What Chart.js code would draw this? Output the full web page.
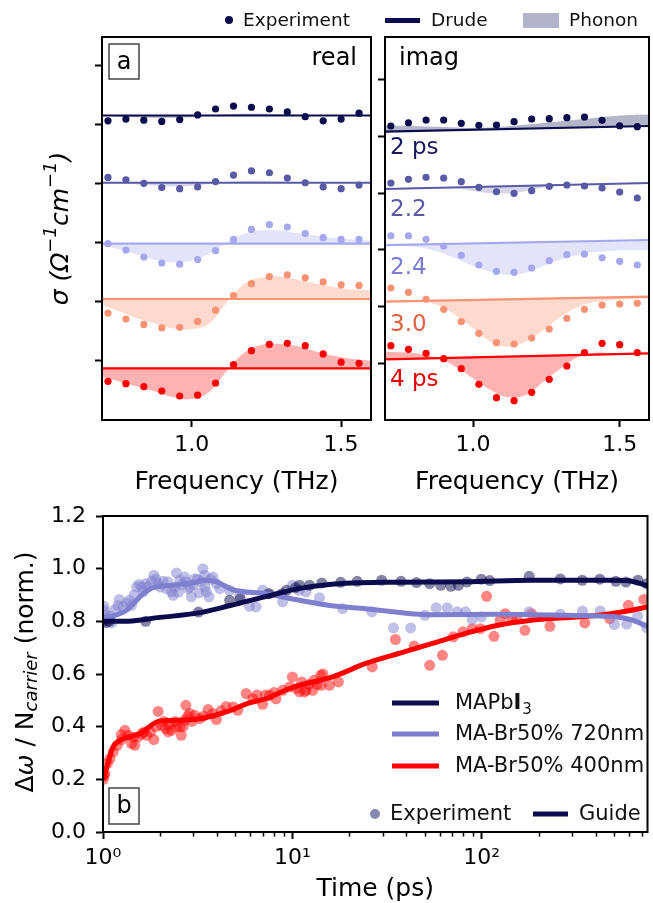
<!DOCTYPE html>
<html>
<head>
<meta charset="utf-8">
<script src="https://cdn.jsdelivr.net/npm/chart.js@4.4.1/dist/chart.umd.min.js"></script>
<style>
  body { margin: 0; background: #fff; width: 653px; height: 903px; overflow: hidden; position: relative; font-family: 'DejaVu Sans', sans-serif; }
  canvas { position: absolute; }
  #realCanvas { left: 0; top: 0; }
  #imagCanvas { left: 378px; top: 0; }
  #timeCanvas { left: 0; top: 490px; }
  .lg { position: absolute; font-size: 18.5px; line-height: 1; color: #111; white-space: nowrap; }
</style>
</head>
<body>
<canvas id="realCanvas" width="378" height="505"></canvas>
<canvas id="imagCanvas" width="275" height="505"></canvas>
<canvas id="timeCanvas" width="653" height="413"></canvas>

<!-- shared legend of the top panels -->
<div class="lg" style="left:225px;top:16px;width:8px;height:8px;border-radius:50%;background:#0b0b4d;"></div>
<div class="lg" style="left:243px;top:11px;">Experiment</div>
<div class="lg" style="left:385px;top:18px;width:35px;height:5px;background:#0b0b4d;"></div>
<div class="lg" style="left:431px;top:11px;">Drude</div>
<div class="lg" style="left:523px;top:13px;width:36px;height:15px;background:#b3b3cc;"></div>
<div class="lg" style="left:569px;top:11px;">Phonon</div>

<script>
  const FONT = "'DejaVu Sans', sans-serif";

  // Frequency axes (THz)
  const freqs = [0.72, 0.78, 0.84, 0.90, 0.96, 1.02, 1.08, 1.14, 1.20, 1.26, 1.32, 1.38, 1.44, 1.50, 1.56];
  const fitFreqs = [0.70, 0.76, 0.82, 0.88, 0.94, 1.00, 1.06, 1.12, 1.18, 1.24, 1.30, 1.36, 1.42, 1.48, 1.54, 1.60];
  const freqTicks = [1.0, 1.5];

  // Delay traces (top to bottom)
  const delays = ["2 ps", "2.2", "2.4", "3.0", "4 ps"];
  const traceColors = ["#0b0b4d", "#5959a6", "#a7a7f0", "#f99273", "#ff0000"];
  const fillColors = ["rgba(11,11,77,0.3)", "rgba(89,89,166,0.25)", "rgba(167,167,240,0.32)", "rgba(249,146,115,0.35)", "rgba(255,0,0,0.3)"];
  const labelColors = ["#16165c", "#5959a6", "#7b7bd6", "#e0603c", "#e60000"];

  // Real part (offset units)
  const realDrude = [5.16, 4.02, 2.99, 2.05, 0.876];
  const realExp = [
    [5.07, 5.10, 5.08, 5.06, 5.09, 5.17, 5.27, 5.32, 5.30, 5.27, 5.22, 5.14, 5.07, 5.10, 5.20],
    [4.11, 4.07, 4.01, 3.94, 3.92, 3.95, 4.04, 4.15, 4.22, 4.19, 4.10, 4.02, 3.95, 3.92, 3.98],
    [2.99, 2.88, 2.76, 2.66, 2.64, 2.72, 2.87, 3.06, 3.23, 3.31, 3.27, 3.16, 3.09, 3.06, 3.06],
    [1.81, 1.71, 1.62, 1.56, 1.57, 1.67, 1.86, 2.11, 2.31, 2.43, 2.46, 2.41, 2.34, 2.29, 2.28],
    [0.656, 0.616, 0.565, 0.49, 0.407, 0.42, 0.627, 0.938, 1.175, 1.28, 1.30, 1.26, 1.12, 0.98, 0.96]
  ];
  const realFit = [
    [5.15, 5.14, 5.13, 5.12, 5.12, 5.13, 5.16, 5.18, 5.19, 5.19, 5.18, 5.17, 5.16, 5.16, 5.16, 5.16],
    [4.02, 4.01, 3.99, 3.97, 3.96, 3.97, 4.00, 4.03, 4.05, 4.05, 4.04, 4.03, 4.02, 4.02, 4.02, 4.02],
    [2.966, 2.89, 2.80, 2.71, 2.67, 2.70, 2.82, 3.01, 3.16, 3.22, 3.21, 3.16, 3.12, 3.08, 3.06, 3.04],
    [1.95, 1.84, 1.72, 1.63, 1.55, 1.54, 1.64, 2.01, 2.32, 2.42, 2.43, 2.37, 2.31, 2.25, 2.21, 2.20],
    [0.734, 0.65, 0.565, 0.48, 0.384, 0.356, 0.48, 0.847, 1.158, 1.28, 1.288, 1.243, 1.158, 1.085, 1.034, 1.005]
  ];

  // Imaginary part (offset units)
  const imagDrudeStart = [5.085, 4.074, 3.086, 2.087, 1.07];
  const imagDrudeEnd = [5.185, 4.18, 3.175, 2.175, 1.176];
  const imagExp = [
    [5.185, 5.243, 5.291, 5.291, 5.233, 5.197, 5.203, 5.261, 5.309, 5.314, 5.332, 5.344, 5.286, 5.19, 5.173],
    [4.18, 4.245, 4.28, 4.268, 4.203, 4.104, 4.026, 3.998, 4.044, 4.122, 4.145, 4.127, 4.092, 4.021, 3.915],
    [3.25, 3.25, 3.187, 3.069, 2.905, 2.734, 2.623, 2.605, 2.681, 2.81, 2.915, 2.928, 2.862, 2.799, 2.734],
    [2.328, 2.252, 2.128, 1.952, 1.734, 1.529, 1.364, 1.340, 1.446, 1.605, 1.793, 1.952, 2.028, 2.046, 2.058],
    [1.311, 1.246, 1.176, 1.082, 0.905, 0.629, 0.393, 0.340, 0.488, 0.717, 0.952, 1.188, 1.352, 1.329, 1.188]
  ];
  const imagFit = [
    [5.19, 5.19, 5.18, 5.17, 5.16, 5.15, 5.16, 5.18, 5.21, 5.24, 5.27, 5.30, 5.33, 5.36, 5.38, 5.39],
    [4.08, 4.09, 4.10, 4.10, 4.09, 4.04, 4.00, 4.00, 4.04, 4.10, 4.13, 4.15, 4.16, 4.17, 4.18, 4.18],
    [3.086, 3.074, 3.046, 2.968, 2.851, 2.716, 2.616, 2.563, 2.598, 2.716, 2.834, 2.916, 2.963, 2.987, 2.998, 2.998],
    [2.116, 2.116, 2.104, 2.028, 1.852, 1.617, 1.381, 1.293, 1.381, 1.587, 1.822, 1.999, 2.087, 2.116, 2.134, 2.140],
    [1.205, 1.193, 1.164, 1.088, 0.940, 0.735, 0.529, 0.400, 0.441, 0.676, 0.911, 1.117, 1.188, 1.176, 1.176, 1.176]
  ];
  const imagLabelY = [4.80, 3.70, 2.68, 1.68, 0.705];

  // Panel b: shift per carrier vs time
  const timeTicks = [1, 10, 100];
  const timeMinor = [2, 3, 4, 5, 6, 7, 8, 9, 20, 30, 40, 50, 60, 70, 80, 90, 200, 300, 400, 500, 600, 700];
  const seriesNames = ["MAPbI3", "MA-Br50% 720nm", "MA-Br50% 400nm"];
  const guideColors = ["#0b0b4d", "#7f7fd0", "#ff0000"];
  const dotColors = ["rgba(11,11,77,0.5)", "rgba(127,127,208,0.5)", "rgba(255,0,0,0.48)"];

  const mapiT = [1.0, 1.04, 1.08, 1.68, 3.19, 4.66, 5.3, 7.5, 8.8, 9.3, 10.4, 10.9, 12.3, 14.3, 18, 22, 29.6, 37.5, 45.2, 53.1, 60.7, 68.6, 75.3, 83.5, 99.4, 110, 178, 260, 339, 420, 510, 577, 668, 742];
  const mapiV = [0.80, 0.795, 0.80, 0.80, 0.835, 0.88, 0.885, 0.905, 0.905, 0.918, 0.928, 0.937, 0.937, 0.946, 0.948, 0.952, 0.956, 0.952, 0.947, 0.943, 0.937, 0.933, 0.937, 0.949, 0.96, 0.955, 0.971, 0.961, 0.956, 0.96, 0.952, 0.949, 0.956, 0.943];
  const mapiGuideT = [1, 1.3, 2, 3.2, 4.7, 7.3, 10.9, 15.7, 30, 82, 183, 500, 620, 750];
  const mapiGuideV = [0.80, 0.80, 0.815, 0.832, 0.86, 0.895, 0.925, 0.94, 0.948, 0.95, 0.956, 0.956, 0.952, 0.935];

  const br720T = [1.012, 1.02, 1.037, 1.066, 1.09, 1.111, 1.157, 1.2, 1.218, 1.279, 1.333, 1.38, 1.415, 1.46, 1.504, 1.553, 1.6, 1.630, 1.684, 1.72, 1.805, 1.856, 1.9, 1.955, 2.0, 2.077, 2.164, 2.2, 2.298, 2.346, 2.4, 2.443, 2.5, 2.545, 2.62, 2.70, 2.75, 2.81, 2.88, 2.93, 3.0, 3.05, 3.15, 3.21, 3.3, 3.37, 3.44, 3.45, 3.51, 3.63, 3.7, 3.81, 3.97, 4.13, 4.66, 5.26, 5.93, 6.43, 6.97, 7.56, 8.88, 10.0, 10.87, 11.8, 13.9, 18.4, 26.3, 34.2, 42.1, 50.1, 57.5, 65.7, 74.2, 82.1, 89, 99.6, 178, 260, 340, 422, 501, 582, 665, 742];
  const br720V = [0.857, 0.84, 0.823, 0.804, 0.82, 0.794, 0.845, 0.86, 0.883, 0.855, 0.870, 0.88, 0.861, 0.90, 0.931, 0.940, 0.93, 0.912, 0.943, 0.93, 0.952, 0.975, 0.96, 0.943, 0.93, 0.952, 0.924, 0.95, 0.912, 0.899, 0.93, 0.984, 0.91, 0.956, 0.94, 0.968, 0.95, 0.924, 0.93, 0.893, 0.94, 0.962, 0.96, 0.908, 0.95, 1.000, 0.975, 0.93, 0.912, 0.893, 0.96, 0.968, 0.943, 0.924, 0.918, 0.895, 0.857, 0.855, 0.918, 0.905, 0.874, 0.937, 0.918, 0.912, 0.890, 0.848, 0.836, 0.775, 0.775, 0.823, 0.852, 0.852, 0.836, 0.836, 0.807, 0.817, 0.836, 0.827, 0.839, 0.839, 0.788, 0.789, 0.820, 0.776];
  const br720GuideT = [1, 1.12, 1.33, 1.63, 1.84, 2.35, 3.0, 3.5, 3.97, 4.86, 7.26, 10.9, 15.7, 24.4, 54.8, 122, 276, 505, 620, 750];
  const br720GuideV = [0.815, 0.82, 0.842, 0.905, 0.928, 0.937, 0.947, 0.956, 0.95, 0.92, 0.905, 0.88, 0.86, 0.848, 0.825, 0.827, 0.823, 0.817, 0.805, 0.781];

  const br400T = [1.005, 1.012, 1.024, 1.054, 1.088, 1.133, 1.189, 1.25, 1.254, 1.305, 1.359, 1.415, 1.45, 1.473, 1.534, 1.61, 1.65, 1.70, 1.78, 1.856, 1.9, 1.955, 2.035, 2.1, 2.14, 2.207, 2.25, 2.30, 2.4, 2.44, 2.55, 2.59, 2.65, 2.70, 2.74, 2.8, 2.87, 2.95, 3.05, 3.24, 3.4, 3.59, 3.8, 3.97, 4.2, 4.47, 4.86, 5.15, 5.70, 6.18, 6.5, 6.97, 7.2, 7.56, 8.0, 8.19, 8.88, 9.66, 10.0, 10.5, 10.9, 11.2, 11.6, 11.8, 12.2, 12.8, 13.0, 13.5, 14.1, 14.2, 14.5, 15.7, 17.5, 26.4, 35.0, 43.9, 53.1, 62.0, 70.7, 79.5, 89.0, 98.3, 106, 116, 125, 133, 144, 153, 169, 183, 229, 350, 474, 594, 717];
  const br400V = [0.20, 0.215, 0.222, 0.26, 0.279, 0.304, 0.329, 0.37, 0.351, 0.386, 0.367, 0.336, 0.36, 0.329, 0.361, 0.374, 0.38, 0.367, 0.38, 0.351, 0.40, 0.458, 0.405, 0.42, 0.393, 0.38, 0.41, 0.386, 0.42, 0.399, 0.40, 0.367, 0.40, 0.424, 0.481, 0.44, 0.45, 0.42, 0.443, 0.431, 0.44, 0.465, 0.45, 0.427, 0.46, 0.477, 0.475, 0.462, 0.526, 0.506, 0.52, 0.485, 0.52, 0.519, 0.53, 0.506, 0.538, 0.551, 0.589, 0.545, 0.532, 0.57, 0.532, 0.538, 0.56, 0.538, 0.576, 0.56, 0.595, 0.557, 0.60, 0.557, 0.57, 0.627, 0.731, 0.706, 0.633, 0.671, 0.741, 0.760, 0.772, 0.772, 0.895, 0.743, 0.804, 0.829, 0.81, 0.81, 0.766, 0.829, 0.781, 0.794, 0.81, 0.861, 0.883];
  const br400GuideT = [1, 1.06, 1.13, 1.23, 1.57, 1.99, 2.16, 3.24, 4.47, 5.93, 7.26, 9.66, 10.9, 16.3, 24.4, 36.6, 54.8, 82, 122, 183, 276, 413, 620, 750];
  const br400GuideV = [0.196, 0.26, 0.323, 0.348, 0.374, 0.422, 0.423, 0.43, 0.456, 0.49, 0.506, 0.545, 0.557, 0.589, 0.64, 0.678, 0.716, 0.754, 0.785, 0.804, 0.814, 0.823, 0.842, 0.855];

  // ---------- helpers ----------
  function xy(xs, ys) {
    return xs.map((x, i) => ({ x: x, y: ys[i] }));
  }

  // box round the plot area
  const framePlugin = {
    id: "frame",
    afterDraw(chart) {
      const a = chart.chartArea, ctx = chart.ctx;
      ctx.save();
      ctx.strokeStyle = "#000";
      ctx.lineWidth = 2;
      ctx.strokeRect(a.left, a.top, a.right - a.left, a.bottom - a.top);
      ctx.restore();
    }
  };

  function boxedLetter(ctx, letter, x, y, w, h) {
    ctx.save();
    ctx.fillStyle = "#fff";
    ctx.fillRect(x, y, w, h);
    ctx.strokeStyle = "#444";
    ctx.lineWidth = 1.5;
    ctx.strokeRect(x, y, w, h);
    ctx.fillStyle = "#000";
    ctx.font = "24px " + FONT;
    ctx.textAlign = "center";
    ctx.textBaseline = "middle";
    ctx.fillText(letter, x + w / 2, y + h / 2 + 1);
    ctx.restore();
  }

  // rotated text made of pieces (for sub/superscripts)
  function rotatedParts(ctx, cx, cy, parts) {
    ctx.save();
    ctx.translate(cx, cy);
    ctx.rotate(-Math.PI / 2);
    ctx.fillStyle = "#000";
    ctx.textBaseline = "middle";
    ctx.textAlign = "left";
    let total = 0;
    parts.forEach(p => { ctx.font = p.f; p.w = ctx.measureText(p.t).width; total += p.w; });
    let x0 = -total / 2;
    parts.forEach(p => { ctx.font = p.f; ctx.fillText(p.t, x0, p.dy); x0 += p.w; });
    ctx.restore();
  }

  // datasets for one spectrum panel
  function spectrumDatasets(drudeStart, drudeEnd, exp, fit) {
    const sets = [];
    for (let i = 0; i < delays.length; i++) {
      const base = sets.length;
      sets.push({
        label: delays[i] + " Drude",
        data: [{ x: 0.70, y: drudeStart[i] }, { x: 1.60, y: drudeEnd[i] }],
        borderColor: traceColors[i], borderWidth: 2.2, pointRadius: 0, fill: false, order: 1
      });
      sets.push({
        label: delays[i] + " Phonon",
        data: xy(fitFreqs, fit[i]),
        borderWidth: 0, borderColor: "rgba(0,0,0,0)", backgroundColor: fillColors[i],
        pointRadius: 0, tension: 0.4, fill: base, order: 2
      });
      sets.push({
        label: delays[i] + " Experiment",
        data: xy(freqs, exp[i]),
        showLine: false, pointRadius: 3.6, pointBorderWidth: 0,
        pointBackgroundColor: traceColors[i], borderColor: traceColors[i], order: 0
      });
    }
    return sets;
  }

  function spectrumOptions(yMax, yTicks, yWidth, padRight) {
    return {
      responsive: false,
      animation: false,
      layout: { padding: { top: 37, right: padRight, left: 0, bottom: 0 } },
      plugins: { legend: { display: false }, tooltip: { enabled: false } },
      scales: {
        x: {
          type: "linear", min: 0.7, max: 1.6,
          afterBuildTicks: s => { s.ticks = freqTicks.map(v => ({ value: v })); },
          afterFit: s => { s.height = 85; },
          ticks: { color: "#000", font: { size: 22, family: FONT }, padding: 5, maxRotation: 0, callback: v => Number(v).toFixed(1) },
          grid: { drawOnChartArea: false, tickLength: 7, tickWidth: 2, tickColor: "#000" },
          border: { color: "#000", width: 2 },
          title: { display: true, text: "Frequency (THz)", color: "#000", font: { size: 25, family: FONT }, padding: { top: 0, bottom: 8 } }
        },
        y: {
          min: 0, max: yMax,
          afterBuildTicks: s => { s.ticks = yTicks.map(v => ({ value: v })); },
          afterFit: s => { s.width = yWidth; },
          ticks: { display: false },
          grid: { drawOnChartArea: false, tickLength: 7, tickWidth: 2, tickColor: "#000" },
          border: { color: "#000", width: 2 }
        }
      }
    };
  }

  // ---------- panel a, real ----------
  new Chart(document.getElementById("realCanvas").getContext("2d"), {
    type: "line",
    data: { datasets: spectrumDatasets(realDrude, realDrude, realExp, realFit) },
    options: spectrumOptions(6.49, [1, 2, 3, 4, 5, 6], 102, 7),
    plugins: [framePlugin, {
      id: "realText",
      afterDraw(chart) {
        const a = chart.chartArea, ctx = chart.ctx;
        boxedLetter(ctx, "a", a.left + 7, a.top + 7, 30, 35);
        ctx.save();
        ctx.fillStyle = "#000";
        ctx.font = "24px " + FONT;
        ctx.textAlign = "right";
        ctx.textBaseline = "middle";
        ctx.fillText("real", a.right - 14, a.top + 22);
        ctx.restore();
        // y title: sigma (Omega^-1 cm^-1)
        const big = "italic 25px " + FONT, sup = "italic 18px " + FONT;
        rotatedParts(ctx, 61, (a.top + a.bottom) / 2, [
          { t: "σ (Ω", f: big, dy: 0 },
          { t: "−1", f: sup, dy: -10 },
          { t: "cm", f: big, dy: 0 },
          { t: "−1", f: sup, dy: -10 },
          { t: ")", f: big, dy: 0 }
        ]);
      }
    }]
  });

  // ---------- panel a, imag ----------
  new Chart(document.getElementById("imagCanvas").getContext("2d"), {
    type: "line",
    data: { datasets: spectrumDatasets(imagDrudeStart, imagDrudeEnd, imagExp, imagFit) },
    options: spectrumOptions(6.755, [1, 2, 3, 4, 5, 6], 7, 1),
    plugins: [framePlugin, {
      id: "imagText",
      afterDraw(chart) {
        const a = chart.chartArea, ctx = chart.ctx, ys = chart.scales.y;
        ctx.save();
        ctx.font = "24px " + FONT;
        ctx.textAlign = "left";
        ctx.textBaseline = "middle";
        ctx.fillStyle = "#000";
        ctx.fillText("imag", a.left + 14, a.top + 22);
        ctx.font = "23px " + FONT;
        delays.forEach((d, i) => {
          ctx.fillStyle = labelColors[i];
          ctx.fillText(d, a.left + 5, ys.getPixelForValue(imagLabelY[i]));
        });
        ctx.restore();
      }
    }]
  });

  // ---------- panel b ----------
  const tSeries = [[mapiT, mapiV, mapiGuideT, mapiGuideV], [br720T, br720V, br720GuideT, br720GuideV], [br400T, br400V, br400GuideT, br400GuideV]];
  const timeSets = [];
  tSeries.forEach((s, i) => {
    timeSets.push({
      label: seriesNames[i] + " Experiment",
      data: xy(s[0], s[1]),
      showLine: false, pointRadius: 5.5, pointBorderWidth: 0,
      pointBackgroundColor: dotColors[i], borderColor: dotColors[i], order: 3
    });
  });
  tSeries.forEach((s, i) => {
    timeSets.push({
      label: seriesNames[i],
      data: xy(s[2], s[3]),
      borderColor: guideColors[i], borderWidth: 5, pointRadius: 0,
      cubicInterpolationMode: "monotone", fill: false, order: i === 0 ? 0 : 1
    });
  });

  const superscripts = { 1: "10⁰", 10: "10¹", 100: "10²" };

  new Chart(document.getElementById("timeCanvas").getContext("2d"), {
    type: "line",
    data: { datasets: timeSets },
    options: {
      responsive: false,
      animation: false,
      layout: { padding: { top: 26, right: 1, left: 0, bottom: 0 } },
      plugins: { legend: { display: false }, tooltip: { enabled: false } },
      scales: {
        x: {
          type: "logarithmic", min: 1, max: 750,
          afterBuildTicks: s => { s.ticks = timeTicks.map(v => ({ value: v })); },
          afterFit: s => { s.height = 71; },
          ticks: { color: "#000", font: { size: 22, family: FONT }, padding: 6, maxRotation: 0, callback: v => superscripts[v] || "" },
          grid: { drawOnChartArea: false, tickLength: 7, tickWidth: 2, tickColor: "#000" },
          border: { color: "#000", width: 2 },
          title: { display: true, text: "Time (ps)", color: "#000", font: { size: 25, family: FONT, lineHeight: 1 }, padding: { top: 0, bottom: 1 } }
        },
        y: {
          min: 0, max: 1.2,
          afterFit: s => { s.width = 103; },
          ticks: { stepSize: 0.2, color: "#000", font: { size: 22, family: FONT }, padding: 10, callback: v => Number(v).toFixed(1) },
          grid: { drawOnChartArea: false, tickLength: 7, tickWidth: 2, tickColor: "#000" },
          border: { color: "#000", width: 2 }
        }
      }
    },
    plugins: [framePlugin, {
      id: "timeExtras",
      afterDraw(chart) {
        const a = chart.chartArea, ctx = chart.ctx, xs = chart.scales.x;
        ctx.save();
        // minor log ticks
        ctx.strokeStyle = "#000";
        ctx.lineWidth = 1.5;
        timeMinor.forEach(v => {
          const px = Math.round(xs.getPixelForValue(v)) + 0.5;
          ctx.beginPath();
          ctx.moveTo(px, a.bottom);
          ctx.lineTo(px, a.bottom + 4.5);
          ctx.stroke();
        });
        ctx.restore();

        // y title with subscript
        rotatedParts(ctx, 26, 182, [
          { t: "Δ", f: "25px " + FONT, dy: 0 },
          { t: "ω", f: "italic 25px " + FONT, dy: 0 },
          { t: " / N", f: "25px " + FONT, dy: 0 },
          { t: "carrier", f: "italic 18px " + FONT, dy: 6 },
          { t: " (norm.)", f: "25px " + FONT, dy: 0 }
        ]);

        // panel letter
        boxedLetter(ctx, "b", a.left + 6, a.bottom - 44, 30, 36);

        // legend of series
        ctx.save();
        ctx.textBaseline = "middle";
        ctx.textAlign = "left";
        const rows = [213, 244, 276];
        rows.forEach((y, i) => {
          ctx.strokeStyle = guideColors[i];
          ctx.lineWidth = 5;
          ctx.beginPath();
          ctx.moveTo(392, y);
          ctx.lineTo(439, y);
          ctx.stroke();
          ctx.fillStyle = "#111";
          ctx.font = "21px " + FONT;
          if (i === 0) {
            let x = 455;
            ctx.fillText("MAPb", x, y + 1); x += ctx.measureText("MAPb").width;
            ctx.font = "bold 21px " + FONT;
            ctx.fillText("I", x, y + 1); x += ctx.measureText("I").width;
            ctx.font = "15px " + FONT;
            ctx.fillText("3", x + 1, y + 7);
          } else {
            ctx.fillText(seriesNames[i], 455, y + 1);
          }
        });
        // marker legend
        ctx.fillStyle = "#8a8ab0";
        ctx.beginPath();
        ctx.arc(375, 324, 5, 0, Math.PI * 2);
        ctx.fill();
        ctx.fillStyle = "#111";
        ctx.font = "21px " + FONT;
        ctx.fillText("Experiment", 390, 325);
        ctx.strokeStyle = guideColors[0];
        ctx.lineWidth = 5;
        ctx.beginPath();
        ctx.moveTo(533, 324);
        ctx.lineTo(568, 324);
        ctx.stroke();
        ctx.fillText("Guide", 579, 325);
        ctx.restore();
      }
    }]
  });
</script>
</body>
</html>
